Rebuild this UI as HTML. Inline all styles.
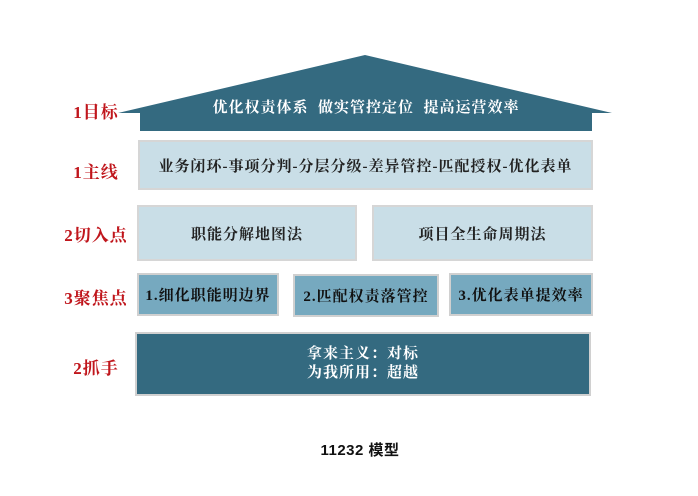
<!DOCTYPE html>
<html><head><meta charset="utf-8"><style>
body{margin:0;width:698px;height:496px;background:#fff;position:relative;font-family:"Liberation Serif","Noto Serif CJK SC",serif;overflow:hidden}
.a{position:absolute;box-sizing:border-box;display:flex;align-items:center;justify-content:center;text-align:center;letter-spacing:1px}
.lb{position:absolute;color:#c0161c;font-weight:bold;font-size:17px;left:0;width:192px;text-align:center;letter-spacing:1px}
.lt{background:#c9dee7;border:2px solid #d6d6d6;color:#222;font-weight:bold;font-size:15px}
.md{background:#76a9bf;border:2px solid #d0d0d0;color:#111;font-weight:bold;font-size:15px}
</style></head><body>
<svg width="698" height="496" style="position:absolute;left:0;top:0">
<polygon points="118,113 365,55 612,113 592,113 592,131 140,131 140,113" fill="#346a80"/>
</svg>
<div class="a" style="left:140px;top:92px;width:452px;height:28px;color:#fff;font-weight:bold;font-size:15px">优化权责体系&nbsp;&nbsp;做实管控定位&nbsp;&nbsp;提高运营效率</div>
<div class="lb" style="top:98px">1目标</div>
<div class="a lt" style="left:138px;top:140px;width:455px;height:50px">业务闭环-事项分判-分层分级-差异管控-匹配授权-优化表单</div>
<div class="lb" style="top:158px">1主线</div>
<div class="a lt" style="left:137px;top:205px;width:220px;height:56px">职能分解地图法</div>
<div class="a lt" style="left:372px;top:205px;width:221px;height:56px">项目全生命周期法</div>
<div class="lb" style="top:221px">2切入点</div>
<div class="a md" style="left:137px;top:273px;width:142px;height:43px">1.细化职能明边界</div>
<div class="a md" style="left:293px;top:274px;width:146px;height:43px">2.匹配权责落管控</div>
<div class="a md" style="left:449px;top:273px;width:144px;height:43px">3.优化表单提效率</div>
<div class="lb" style="top:284px">3聚焦点</div>
<div class="a" style="left:135px;top:332px;width:456px;height:64px;background:#346a80;border:2px solid #d0d0d0;color:#fff;font-weight:bold;font-size:15px;line-height:19px">拿来主义：对标<br>为我所用：超越</div>
<div class="lb" style="top:354px">2抓手</div>
<div class="a" style="left:260px;top:438px;width:200px;height:22px;font-family:'Liberation Sans','Noto Sans CJK SC',sans-serif;font-weight:bold;font-size:15px;color:#111;letter-spacing:0.5px">11232 模型</div>
</body></html>
